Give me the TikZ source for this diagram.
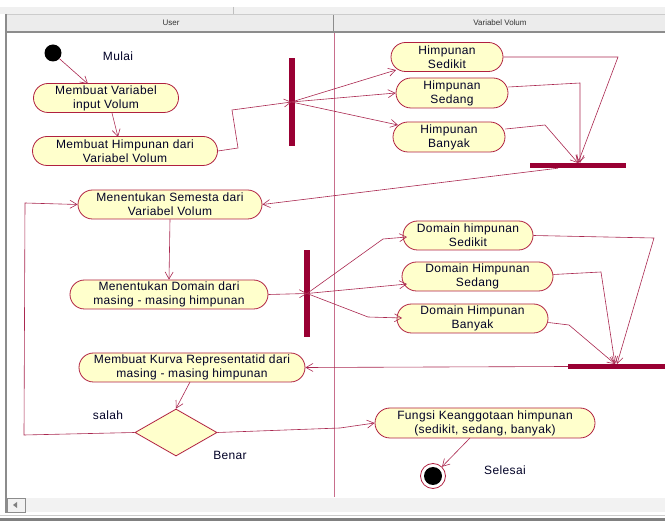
\documentclass[tikz,border=0pt]{standalone}
\usepackage{fontspec}
\setmainfont{Liberation Sans}
\newfontfamily\diafont[LetterSpace=3]{Liberation Sans}
\usetikzlibrary{shapes.misc,shapes.geometric,arrows.meta}
\definecolor{nodeborder}{RGB}{176,32,64}
\definecolor{nodefill}{RGB}{255,255,204}
\definecolor{linecol}{RGB}{170,40,80}
\definecolor{barcol}{RGB}{153,0,51}
\definecolor{lanecol}{RGB}{200,110,140}
\definecolor{hdrfill}{RGB}{236,236,236}
\definecolor{hdrline}{RGB}{140,140,140}
\tikzset{
  act/.style={rounded rectangle, draw=nodeborder, fill=nodefill, line width=0.8pt,
    inner sep=0pt, align=center, font=\diafont\fontsize{12}{14}\selectfont, text=black!85!blue},
  bar/.style={fill=barcol, draw=none, inner sep=0pt, rectangle},
  flow/.style={draw=linecol, line width=0.6pt, -{Straight Barb[length=7pt,width=8pt]}},
  seg/.style={draw=linecol, line width=0.6pt},
  lbl/.style={font=\diafont\fontsize{12}{14}\selectfont, text=black!85!blue, inner sep=0pt}
}
\begin{document}
\begin{tikzpicture}[x=1pt,y=-1pt]
\useasboundingbox (0,0) rectangle (665,521);
% frame
\fill[white] (0,0) rectangle (665,521);
\fill[black!6] (0,7) rectangle (665,14);
\draw[black!25] (233,7) -- (233,14);
\fill[hdrfill] (6,14) rectangle (665,31);
\draw[hdrline, line width=1.5pt] (6,32) -- (665,32);
\draw[hdrline, line width=1pt] (333,14) -- (333,32);
\draw[black!20] (6,14.5) -- (665,14.5);
\node[font=\fontsize{8}{9}\selectfont, text=black!80] (hU) at (171,22.5) {User};
\node[font=\fontsize{8}{9}\selectfont, text=black!80] (hV) at (500,22.5) {Variabel Volum};
\draw[hdrline, line width=1.2pt] (6,14) -- (6,513);
\draw[lanecol, line width=0.8pt] (334,33) -- (334,497);
% scrollbar
\fill[black!5] (7,498) rectangle (665,512);
\draw[black!45] (7,498) rectangle (25,512);
\fill[black!50] (13,505) -- (17,502) -- (17,508) -- cycle;
\draw[black!20] (0,515) -- (665,515);
\fill[black!50] (0,518) rectangle (665,521);

% start
\node[circle, fill=black, minimum size=17pt, inner sep=0pt] (start) at (53,53) {};
\node[lbl] (mulai) at (118,56) {Mulai};
% left lane nodes
\node[act, minimum width=145pt, minimum height=29pt] (n1) at (106,98) {Membuat Variabel\\input Volum};
\node[act, minimum width=185pt, minimum height=29pt] (n2) at (125,151) {Membuat Himpunan dari\\Variabel Volum};
\node[bar, minimum width=6pt, minimum height=88pt] (f1) at (291.5,102) {};
\node[act, minimum width=112pt, minimum height=29pt] (h1) at (447,57) {Himpunan\\Sedikit};
\node[act, minimum width=112pt, minimum height=30pt] (h2) at (452,93) {Himpunan\\Sedang};
\node[act, minimum width=112pt, minimum height=30pt] (h3) at (449,137) {Himpunan\\Banyak};
\node[bar, minimum width=96pt, minimum height=5pt] (j1) at (578,165.5) {};
\node[act, minimum width=184pt, minimum height=29pt] (n3) at (170,204.5) {Menentukan Semesta dari\\Variabel Volum};
\node[act, minimum width=198pt, minimum height=29pt] (n4) at (169,294.5) {Menentukan Domain dari\\masing - masing himpunan};
\node[bar, minimum width=6pt, minimum height=87pt] (f2) at (307,293.5) {};
\node[act, minimum width=130pt, minimum height=29pt] (d1) at (468,235.5) {Domain himpunan\\Sedikit};
\node[act, minimum width=151pt, minimum height=29pt] (d2) at (477.5,276.5) {Domain Himpunan\\Sedang};
\node[act, minimum width=151pt, minimum height=29pt] (d3) at (472.5,318.5) {Domain Himpunan\\Banyak};
\node[bar, minimum width=97pt, minimum height=5pt] (j2) at (616.5,366.5) {};
\node[act, minimum width=226pt, minimum height=29pt] (n5) at (192,367.5) {Membuat Kurva Representatid dari\\masing - masing himpunan};
\node[diamond, draw=nodeborder, fill=nodefill, line width=0.8pt, minimum width=82pt, minimum height=47pt, inner sep=0pt, shape aspect=1.74] (dec) at (176,432.5) {};
\node[lbl] (salah) at (108,415) {salah};
\node[lbl] (benar) at (230,455) {Benar};
\node[act, minimum width=220pt, minimum height=30pt] (n6) at (485,423) {Fungsi Keanggotaan himpunan\\(sedikit, sedang, banyak)};
\node[circle, draw=nodeborder, fill=white, line width=0.8pt, minimum size=25pt, inner sep=0pt] (endo) at (433,476) {};
\node[circle, fill=black, minimum size=18pt, inner sep=0pt] (endi) at (433,476) {};
\node[lbl] (selesai) at (505,470) {Selesai};

% connectors
\coordinate (c1) at (238,148);
\coordinate (c2) at (232,110);
\draw[flow] (start) -- (88,84);
\draw[flow] (112,113) -- (118,137);
\draw[flow] (n2.east) -- (c1) -- (c2) -- (f1.center);
\draw[flow] (f1.center) -- (396,70);
\draw[flow] (f1.center) -- (h2.west);
\draw[flow] (f1.center) -- (398,125);
\coordinate (s1) at (618,57);
\coordinate (s2) at (580,83);
\coordinate (s3) at (545,125);
\draw[flow] (h1.east) -- (s1) -- (578,163);
\draw[flow] (h2.east) ++(0,-6) -- (s2) -- (580,163);
\draw[flow] (h3.east) ++(0,-8) -- (s3) -- (578,163);
\draw[flow] (j1.south) ++(-20,0) -- (n3.east);
\draw[flow] (n3.south) -- (n4.north);
\draw[flow] (n4.east) -- (f2.center);
\coordinate (t1) at (383,239);
\coordinate (t3) at (368,317);
\draw[flow] (f2.center) -- (t1) -- (407,237);
\draw[flow] (f2.center) -- (407,284);
\draw[flow] (f2.center) -- (t3) -- (402,318);
\coordinate (u1) at (654,238);
\coordinate (u2) at (601,272);
\coordinate (u3) at (569,325);
\draw[flow] (d1.east) -- (u1) -- (617,364);
\draw[flow] (d2.east) ++(0,-2) -- (u2) -- (615,364);
\draw[flow] (d3.east) ++(0,4) -- (u3) -- (615,364);
\draw[flow] (j2.west) -- (n5.east);
\draw[flow] (190,382) -- (dec.north);
\coordinate (v1) at (24,435);
\coordinate (v2) at (25,203);
\draw[flow] (dec.west) -- (v1) -- (v2) -- (n3.west);
\coordinate (w1) at (340,428);
\draw[flow] (dec.east) -- (w1) -- (n6.west);
\draw[flow] (470,438) -- (endo);
\end{tikzpicture}
\end{document}
